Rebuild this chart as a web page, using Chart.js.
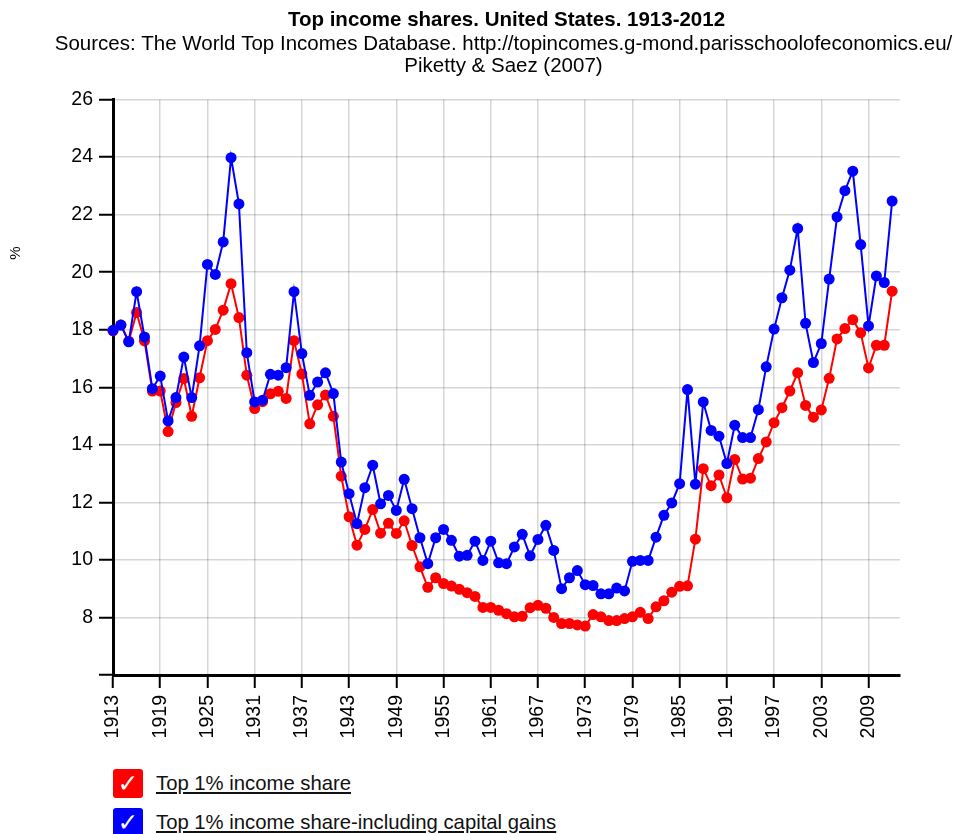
<!DOCTYPE html>
<html>
<head>
<meta charset="utf-8">
<script src="https://cdn.jsdelivr.net/npm/chart.js@4.4.1/dist/chart.umd.min.js"></script>
<style>
  html, body { margin: 0; padding: 0; background: #fff; }
  body { width: 955px; height: 834px; overflow: hidden; position: relative; font-family: "Liberation Sans", Arial, sans-serif; }
  #wrap { position: absolute; left: 0; top: 0; width: 955px; height: 750px; }
  #legend { position: absolute; left: 113px; top: 764px; }
  .item { display: flex; align-items: center; height: 39px; }
  .box { width: 30px; height: 29px; border-radius: 3px; color: #fff; font-family: "DejaVu Sans", sans-serif; font-size: 25px; line-height: 29px; text-align: center; margin-right: 13px; }
  .txt { font-size: 20.3px; text-decoration: underline; color: #111; }
</style>
</head>
<body>
<div id="wrap"><canvas id="chart"></canvas></div>
<div id="legend"></div>
<script>
const years = [
  1913, 1914, 1915, 1916, 1917, 1918, 1919, 1920, 1921, 1922,
  1923, 1924, 1925, 1926, 1927, 1928, 1929, 1930, 1931, 1932,
  1933, 1934, 1935, 1936, 1937, 1938, 1939, 1940, 1941, 1942,
  1943, 1944, 1945, 1946, 1947, 1948, 1949, 1950, 1951, 1952,
  1953, 1954, 1955, 1956, 1957, 1958, 1959, 1960, 1961, 1962,
  1963, 1964, 1965, 1966, 1967, 1968, 1969, 1970, 1971, 1972,
  1973, 1974, 1975, 1976, 1977, 1978, 1979, 1980, 1981, 1982,
  1983, 1984, 1985, 1986, 1987, 1988, 1989, 1990, 1991, 1992,
  1993, 1994, 1995, 1996, 1997, 1998, 1999, 2000, 2001, 2002,
  2003, 2004, 2005, 2006, 2007, 2008, 2009, 2010, 2011, 2012
];

// Top 1% income share (excluding capital gains)
const incomeShare = [
  17.96, 18.16, 17.60, 18.60, 17.61, 15.87, 15.87, 14.46, 15.47, 16.30,
  14.99, 16.33, 17.62, 18.01, 18.68, 19.60, 18.42, 16.42, 15.26, 15.50,
  15.77, 15.86, 15.61, 17.62, 16.46, 14.73, 15.39, 15.73, 14.99, 12.91,
  11.50, 10.51, 11.06, 11.75, 10.93, 11.27, 10.92, 11.36, 10.50, 9.76,
  9.05, 9.38, 9.18, 9.09, 8.98, 8.86, 8.73, 8.35, 8.35, 8.25,
  8.13, 8.02, 8.04, 8.34, 8.42, 8.32, 8.00, 7.79, 7.79, 7.74,
  7.70, 8.10, 8.02, 7.89, 7.89, 7.96, 8.02, 8.18, 7.96, 8.37,
  8.58, 8.88, 9.08, 9.10, 10.72, 13.17, 12.58, 12.95, 12.16, 13.49,
  12.81, 12.84, 13.52, 14.10, 14.77, 15.29, 15.87, 16.50, 15.37, 14.96,
  15.21, 16.31, 17.68, 18.04, 18.35, 17.89, 16.67, 17.46, 17.46, 19.34
];

// Top 1% income share including capital gains
const withCapitalGains = [
  17.98, 18.16, 17.58, 19.32, 17.75, 15.95, 16.39, 14.83, 15.64, 17.05,
  15.64, 17.44, 20.27, 19.92, 21.05, 23.98, 22.37, 17.20, 15.49, 15.55,
  16.45, 16.42, 16.68, 19.32, 17.17, 15.72, 16.18, 16.50, 15.78, 13.40,
  12.30, 11.26, 12.51, 13.29, 11.95, 12.24, 11.72, 12.80, 11.78, 10.77,
  9.87, 10.77, 11.06, 10.68, 10.13, 10.16, 10.65, 9.98, 10.65, 9.90,
  9.87, 10.45, 10.89, 10.14, 10.71, 11.20, 10.33, 9.00, 9.38, 9.63,
  9.14, 9.11, 8.82, 8.82, 9.02, 8.92, 9.95, 9.98, 9.98, 10.79,
  11.55, 11.98, 12.65, 15.92, 12.63, 15.49, 14.50, 14.30, 13.35, 14.68,
  14.25, 14.25, 15.22, 16.71, 18.02, 19.11, 20.07, 21.52, 18.22, 16.86,
  17.52, 19.76, 21.92, 22.83, 23.51, 20.96, 18.13, 19.87, 19.64, 22.47
];

const xTickYears = [1913, 1919, 1925, 1931, 1937, 1943, 1949, 1955, 1961, 1967, 1973, 1979, 1985, 1991, 1997, 2003, 2009];
const yTicks = [8, 10, 12, 14, 16, 18, 20, 22, 24, 26];

const seriesNames = ['Top 1% income share', 'Top 1% income share-including capital gains'];
const seriesColors = ['#ff0000', '#0000ff'];
const sourceLines = ['Sources: The World Top Incomes Database. http://topincomes.g-mond.parisschoolofeconomics.eu/', 'Piketty & Saez (2007)'];

Chart.defaults.font.family = '"Liberation Sans", Arial, sans-serif';
Chart.defaults.color = '#000';

// source lines under the title: drawn without the title box's maxWidth squeeze
// and the "%" axis title in the upper part of the y axis
const extraTextPlugin = {
  id: 'extraText',
  afterDraw(chart) {
    const ctx = chart.ctx;
    const area = chart.chartArea;
    const cx = (area.left + area.right) / 2 - 3;
    ctx.save();
    ctx.fillStyle = '#000';
    ctx.textAlign = 'center';
    ctx.textBaseline = 'middle';
    ctx.font = '20.5px "Liberation Sans", Arial, sans-serif';
    sourceLines.forEach((line, i) => ctx.fillText(line, cx, 44 + i * 22));

    ctx.translate(16, area.top + (area.bottom - area.top) * 0.267);
    ctx.rotate(-Math.PI / 2);
    ctx.font = '15px "Liberation Sans", Arial, sans-serif';
    ctx.fillText('%', 0, 0);
    ctx.restore();
  }
};

function makeSeries(values, i, order) {
  return {
    label: seriesNames[i],
    data: years.map((yr, k) => ({ x: yr, y: values[k] })),
    borderColor: seriesColors[i],
    backgroundColor: seriesColors[i],
    pointBackgroundColor: seriesColors[i],
    pointBorderColor: seriesColors[i],
    pointRadius: 5.5,
    pointBorderWidth: 0,
    borderWidth: 2,
    tension: 0,
    clip: false,
    order: order
  };
}

const chart = new Chart(document.getElementById('chart'), {
  type: 'line',
  data: {
    datasets: [
      makeSeries(incomeShare, 0, 2),
      makeSeries(withCapitalGains, 1, 1)
    ]
  },
  plugins: [extraTextPlugin],
  options: {
    responsive: true,
    maintainAspectRatio: false,
    animation: false,
    layout: { padding: { left: 0, right: 55, top: 0, bottom: 5 } },
    plugins: {
      legend: { display: false },
      tooltip: { enabled: false },
      title: {
        display: true,
        fullSize: false,
        align: 'center',
        text: 'Top income shares. United States. 1913-2012',
        font: { size: 20.5, weight: 'bold', lineHeight: 1.2 },
        // bottom padding leaves room for the two source lines
        padding: { top: 7.7, bottom: 67.2 }
      },
      subtitle: { display: false }
    },
    scales: {
      x: {
        type: 'linear',
        min: 1913,
        max: 2013,
        afterBuildTicks: (scale) => { scale.ticks = xTickYears.map(v => ({ value: v })); },
        afterFit: (scale) => { scale.height = 70; },
        ticks: {
          autoSkip: false,
          minRotation: 90,
          maxRotation: 90,
          font: { size: 19.5 },
          padding: 7,
          callback: (v) => String(v)
        },
        grid: { color: 'rgba(0,0,0,0.16)', lineWidth: 1.5, tickColor: '#000', tickLength: 13, tickWidth: 2 },
        border: { color: '#000', width: 3 }
      },
      y: {
        min: 6,
        max: 26,
        afterBuildTicks: (scale) => { scale.ticks = [6].concat(yTicks).map(v => ({ value: v })); },
        afterFit: (scale) => { scale.width = 113; },
        ticks: {
          font: { size: 19.5 },
          padding: 6,
          callback: (v) => (yTicks.includes(v) ? String(v) : '')
        },
        grid: { color: 'rgba(0,0,0,0.16)', lineWidth: 1.5, tickColor: '#000', tickLength: 14, tickWidth: 2 },
        border: { color: '#000', width: 3 }
      }
    }
  }
});

// HTML legend with check boxes
const legend = document.getElementById('legend');
chart.data.datasets.forEach((ds) => {
  const item = document.createElement('div');
  item.className = 'item';
  item.innerHTML = '<div class="box" style="background:' + ds.borderColor + '">\u2713</div><span class="txt">' + ds.label + '</span>';
  legend.appendChild(item);
});
</script>
</body>
</html>
